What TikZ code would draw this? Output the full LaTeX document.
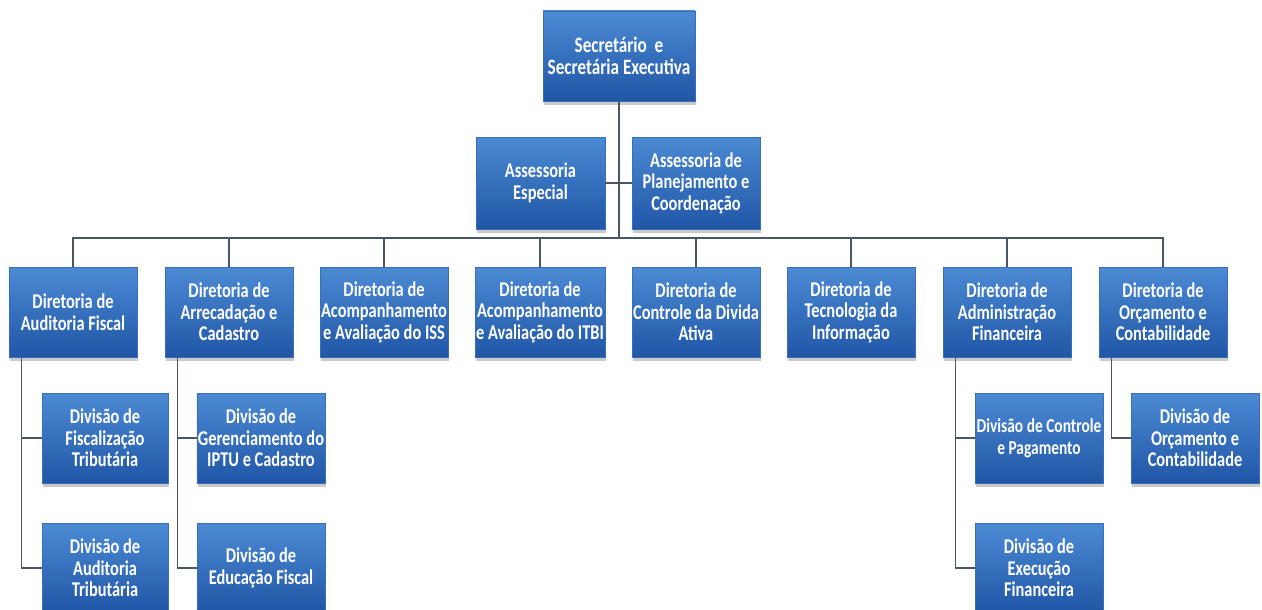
\documentclass[tikz,border=0pt]{standalone}
\usepackage{fontspec}
\setmainfont{Carlito}[FakeStretch=0.78]
\usetikzlibrary{shadows,calc}
\definecolor{boxtop}{RGB}{76,138,212}
\definecolor{boxbot}{RGB}{32,86,166}
\definecolor{boxedge}{RGB}{58,110,184}
\definecolor{linec}{RGB}{72,86,102}
\tikzset{
  orgbox/.style={rectangle, top color=boxtop, bottom color=boxbot, draw=boxedge, line width=0.6pt,
    minimum width=128pt, minimum height=90pt, inner sep=1pt, align=center, text=white,
    font=\bfseries\fontsize{21}{21.5}\selectfont,
    drop shadow={shadow xshift=1pt, shadow yshift=-4pt, opacity=0.3, fill=black!70}},
  topbox/.style={orgbox, minimum width=152pt, minimum height=90pt, font=\bfseries\fontsize{22}{22}\selectfont},
  conn/.style={draw=linec, line width=1.4pt}
}
\begin{document}
\begin{tikzpicture}[x=1pt,y=-1pt]
\useasboundingbox (0,0) rectangle (1262,610);
% top
\node[topbox] (sec) at (619,56) {Secretário\ \ e\\Secretária Executiva};
\node[orgbox, minimum width=129pt, minimum height=92pt] (ae) at (540.5,183) {Assessoria\\Especial};
\node[orgbox, minimum width=128pt, minimum height=92pt] (ap) at (696,183) {Assessoria de\\Planejamento e\\Coordenação};
% directors
\node[orgbox] (d1) at (73,312) {Diretoria de\\Auditoria Fiscal};
\node[orgbox] (d2) at (229,312) {Diretoria de\\Arrecadação e\\Cadastro};
\node[orgbox] (d3) at (384,312) {Diretoria de\\Acompanhamento\\e Avaliação do ISS};
\node[orgbox] (d4) at (540,312) {Diretoria de\\Acompanhamento\\e Avaliação do ITBI};
\node[orgbox] (d5) at (696,312) {Diretoria de\\Controle da Divida\\Ativa};
\node[orgbox] (d6) at (851,312) {Diretoria de\\Tecnologia da\\Informação};
\node[orgbox] (d7) at (1007,312) {Diretoria de\\Administração\\Financeira};
\node[orgbox] (d8) at (1163,312) {Diretoria de\\Orçamento e\\Contabilidade};
% divisions
\node[orgbox, minimum width=126pt] (c1a) at (105,438) {Divisão de\\Fiscalização\\Tributária};
\node[orgbox, minimum width=126pt] (c1b) at (105,568) {Divisão de\\Auditoria\\Tributária};
\node[orgbox] (c2a) at (261,438) {Divisão de\\Gerenciamento do\\IPTU e Cadastro};
\node[orgbox] (c2b) at (261,568) {Divisão de\\Educação Fiscal};
\node[orgbox, inner sep=0pt, font=\bfseries\fontsize{19.8}{21.5}\selectfont] (c7a) at (1039,438) {Divisão de Controle\\e Pagamento};
\node[orgbox] (c7b) at (1039,568) {Divisão de\\Execução\\Financeira};
\node[orgbox] (c8a) at (1195,438) {Divisão de\\Orçamento e\\Contabilidade};
% connectors
\coordinate (bus) at (619,238);
\draw[conn] (sec.south) -- (bus);
\draw[conn] (ae.east) -- (ap.west);
\foreach \d in {d1,d2,d3,d4,d5,d6,d7,d8}{\draw[conn] (\d.north) |- (bus);}
\draw[conn] ([xshift=13pt]d1.south west) |- (c1a.west);
\draw[conn] ([xshift=13pt]d1.south west) |- (c1b.west);
\draw[conn] ([xshift=13pt]d2.south west) |- (c2a.west);
\draw[conn] ([xshift=13pt]d2.south west) |- (c2b.west);
\draw[conn] ([xshift=13pt]d7.south west) |- (c7a.west);
\draw[conn] ([xshift=13pt]d7.south west) |- (c7b.west);
\draw[conn] ([xshift=13pt]d8.south west) |- (c8a.west);
\end{tikzpicture}
\end{document}
